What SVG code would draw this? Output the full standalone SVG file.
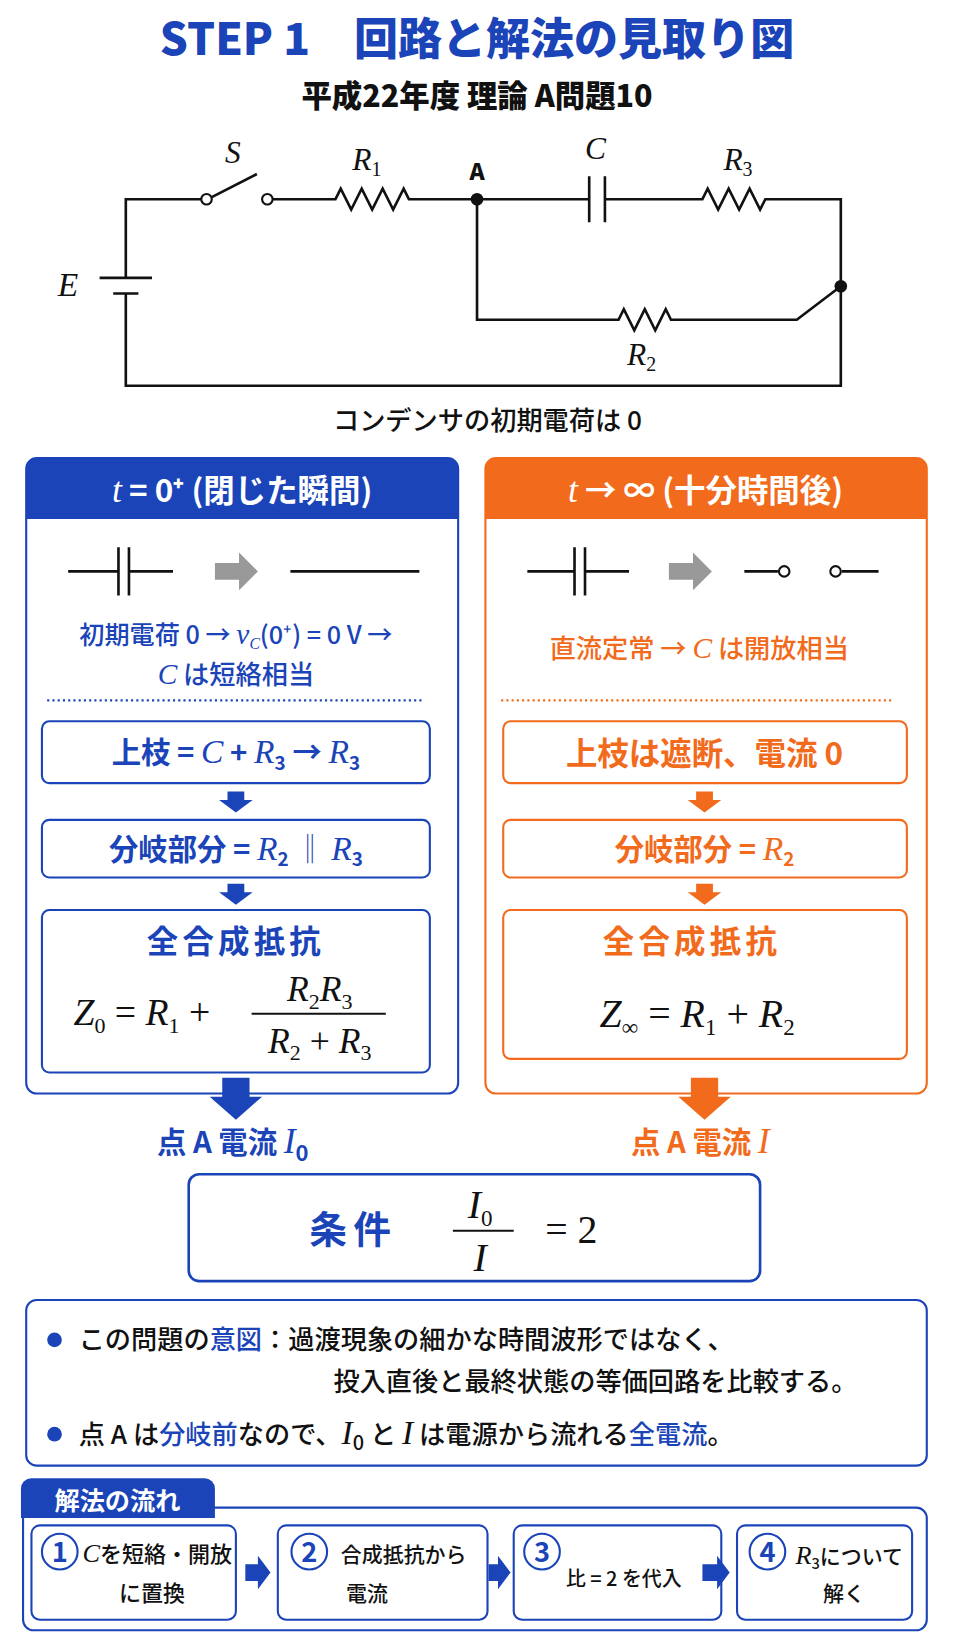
<svg xmlns="http://www.w3.org/2000/svg" width="954" height="1648" viewBox="0 0 954 1648">
<style>
text{font-family:"Noto Sans CJK JP","Liberation Sans",sans-serif;font-weight:500}
.m{font-family:"Liberation Serif","Noto Sans CJK JP",serif;font-style:italic;font-weight:normal}
.w{fill:none;stroke:#111;stroke-width:2.5}
.b{fill:#1a44b8}.o{fill:#f26a1b}.k{fill:#111}
.bb{fill:#fff;stroke:#1a44b8;stroke-width:2}
.ob{fill:#fff;stroke:#f26a1b;stroke-width:2}
</style>
<rect width="954" height="1648" fill="#fff"/>
<g transform="scale(1.0484)">
<g id="title">
<text x="455" y="52" text-anchor="middle" font-size="42" style="font-weight:900" class="b">STEP 1　回路と解法の見取り図</text>
<text x="455" y="102" text-anchor="middle" font-size="29" style="font-weight:900" class="k">平成22年度 理論 A問題10</text>
</g>
<g id="circuit">
<path class="w" d="M120 265V190H197M257 190H320l5-10 10 20 10-20 10 20 10-20 10 20 10-20 5 10H455H562M577 190H670l5-10 10 20 10-20 10 20 10-20 10 20 5-10H802V368H120V280"/>
<path class="w" d="M95 265H145M108 280H132" />
<path class="w" d="M562 168V212M577 168V212" stroke-width="3"/>
<path class="w" d="M455 190V305H590l5-10 10 20 10-20 10 20 10-20 5 10H760L802 273"/>
<path class="w" d="M202 188L245 166"/>
<circle cx="197" cy="190" r="5" fill="#fff" stroke="#111" stroke-width="2"/>
<circle cx="255" cy="190" r="5" fill="#fff" stroke="#111" stroke-width="2"/>
<circle cx="455" cy="190" r="6" class="k"/><circle cx="802" cy="273" r="6" class="k"/>
<text x="55" y="282" class="m k" font-size="32">E</text>
<text x="222" y="155" class="m k" font-size="30" text-anchor="middle">S</text>
<text x="336" y="162" class="m k" font-size="30">R<tspan font-size="19" dy="6" font-style="normal">1</tspan></text>
<text x="455" y="172" class="k" font-size="22" style="font-weight:900" text-anchor="middle">A</text>
<text x="568" y="152" class="m k" font-size="30" text-anchor="middle">C</text>
<text x="690" y="162" class="m k" font-size="30">R<tspan font-size="19" dy="6" font-style="normal">3</tspan></text>
<text x="598" y="348" class="m k" font-size="30">R<tspan font-size="19" dy="6" font-style="normal">2</tspan></text>
<text x="465" y="410" text-anchor="middle" font-size="25" class="k">コンデンサの初期電荷は 0</text>
</g>
<g id="left">
<rect x="25" y="437" width="412" height="606" rx="10" class="bb"/>
<path d="M25 447a10 10 0 0 1 10-10H427a10 10 0 0 1 10 10V495H25Z" class="b"/>
<text x="231" y="479" text-anchor="middle" font-size="30" style="font-weight:bold" fill="#fff"><tspan class="m" font-size="34">t</tspan> = 0⁺ (閉じた瞬間)</text>
<path class="w" d="M65 545H113M113 522V568M123 522V568M123 545H165M277 545H400"/>
<path d="M205 537H228V527L246 545L228 563V553H205Z" fill="#999"/>
<text x="225" y="614" text-anchor="middle" font-size="24" class="b">初期電荷 0 → <tspan class="m" font-size="28">v</tspan><tspan font-size="15" dy="5" class="m">C</tspan><tspan dy="-5">(0⁺) = 0 V →</tspan></text>
<text x="225" y="652" text-anchor="middle" font-size="25" class="b"><tspan class="m" font-size="28">C</tspan> は短絡相当</text>
<line x1="45" y1="668" x2="405" y2="668" stroke="#1a44b8" stroke-width="2" stroke-dasharray="2 3"/>
<rect x="40" y="688" width="370" height="59" rx="7" class="bb"/>
<text x="225" y="728" text-anchor="middle" font-size="28" style="font-weight:bold" class="b">上枝 = <tspan class="m" font-size="32">C</tspan> + <tspan class="m" font-size="32">R</tspan><tspan font-size="18" dy="6">3</tspan><tspan dy="-6"> → </tspan><tspan class="m" font-size="32">R</tspan><tspan font-size="18" dy="6">3</tspan></text>
<path d="M217 755H233V763H241L225 775L209 763H217Z" class="b"/>
<rect x="40" y="782" width="370" height="55" rx="7" class="bb"/>
<text x="225" y="820" text-anchor="middle" font-size="28" style="font-weight:bold" class="b">分岐部分 = <tspan class="m" font-size="32">R</tspan><tspan font-size="18" dy="6">2</tspan><tspan dy="-6" font-weight="normal"> ‖ </tspan><tspan class="m" font-size="32">R</tspan><tspan font-size="18" dy="6">3</tspan></text>
<path d="M217 843H233V851H241L225 863L209 851H217Z" class="b"/>
<rect x="40" y="868" width="370" height="155" rx="7" class="bb"/>
<text x="225" y="909" text-anchor="middle" font-size="30" style="font-weight:bold" class="b" letter-spacing="4">全合成抵抗</text>
<text x="70" y="978" font-size="36" class="m k">Z<tspan font-size="21" dy="7" font-style="normal">0</tspan><tspan dy="-7" font-style="normal"> = </tspan>R<tspan font-size="21" dy="7" font-style="normal">1</tspan><tspan dy="-7" font-style="normal"> +</tspan></text>
<text x="305" y="955" text-anchor="middle" font-size="34" class="m k">R<tspan font-size="21" dy="7" font-style="normal">2</tspan><tspan dy="-7">R</tspan><tspan font-size="21" dy="7" font-style="normal">3</tspan></text>
<line x1="240" y1="967" x2="368" y2="967" stroke="#111" stroke-width="2"/>
<text x="305" y="1004" text-anchor="middle" font-size="34" class="m k">R<tspan font-size="21" dy="7" font-style="normal">2</tspan><tspan dy="-7" font-style="normal"> + </tspan>R<tspan font-size="21" dy="7" font-style="normal">3</tspan></text>
<path d="M212 1028H238V1046H250L225 1068L200 1046H212Z" class="b"/>
<text x="222" y="1100" text-anchor="middle" font-size="28" style="font-weight:bold" class="b">点 A 電流 <tspan class="m" font-size="34">I</tspan><tspan font-size="21" dy="7">0</tspan></text>
</g>
<g id="right">
<rect x="463" y="437" width="421" height="606" rx="10" class="ob"/>
<path d="M463 447a10 10 0 0 1 10-10H874a10 10 0 0 1 10 10V495H463Z" class="o"/>
<text x="673" y="479" text-anchor="middle" font-size="30" style="font-weight:bold" fill="#fff"><tspan class="m" font-size="34">t</tspan> → ∞ (十分時間後)</text>
<path class="w" d="M503 545H548M548 522V568M558 522V568M558 545H600M710 545H742M803 545H838"/>
<circle cx="748" cy="545" r="5" fill="#fff" stroke="#111" stroke-width="2"/>
<circle cx="797" cy="545" r="5" fill="#fff" stroke="#111" stroke-width="2"/>
<path d="M638 537H661V527L679 545L661 563V553H638Z" fill="#999"/>
<text x="667" y="628" text-anchor="middle" font-size="25" class="o">直流定常 → <tspan class="m" font-size="28">C</tspan> は開放相当</text>
<line x1="478" y1="668" x2="850" y2="668" stroke="#f26a1b" stroke-width="2" stroke-dasharray="2 3"/>
<rect x="480" y="688" width="385" height="59" rx="7" class="ob"/>
<text x="672" y="730" text-anchor="middle" font-size="30" style="font-weight:bold" class="o">上枝は遮断、電流 0</text>
<path d="M664 755H680V763H688L672 775L656 763H664Z" class="o"/>
<rect x="480" y="782" width="385" height="55" rx="7" class="ob"/>
<text x="672" y="820" text-anchor="middle" font-size="28" style="font-weight:bold" class="o">分岐部分 = <tspan class="m" font-size="32">R</tspan><tspan font-size="18" dy="6">2</tspan></text>
<path d="M664 843H680V851H688L672 863L656 851H664Z" class="o"/>
<rect x="480" y="868" width="385" height="142" rx="7" class="ob"/>
<text x="660" y="909" text-anchor="middle" font-size="30" style="font-weight:bold" class="o" letter-spacing="4">全合成抵抗</text>
<text x="665" y="980" text-anchor="middle" font-size="38" class="m k">Z<tspan font-size="22" dy="7" font-style="normal">∞</tspan><tspan dy="-7" font-style="normal"> = </tspan>R<tspan font-size="22" dy="7" font-style="normal">1</tspan><tspan dy="-7" font-style="normal"> + </tspan>R<tspan font-size="22" dy="7" font-style="normal">2</tspan></text>
<path d="M659 1028H685V1046H697L672 1068L647 1046H659Z" class="o"/>
<text x="668" y="1100" text-anchor="middle" font-size="28" style="font-weight:bold" class="o">点 A 電流 <tspan class="m" font-size="34">I</tspan></text>
</g>
<g id="condition">
<rect x="180" y="1120" width="545" height="102" rx="10" fill="#fff" stroke="#1a44b8" stroke-width="2.5"/>
<text x="337" y="1186" text-anchor="middle" font-size="36" style="font-weight:bold" class="b" letter-spacing="6">条件</text>
<text x="458" y="1162" text-anchor="middle" font-size="38" class="m k">I<tspan font-size="22" dy="7" font-style="normal">0</tspan></text>
<line x1="432" y1="1174" x2="490" y2="1174" stroke="#111" stroke-width="2"/>
<text x="458" y="1212" text-anchor="middle" font-size="38" class="m k">I</text>
<text x="545" y="1186" text-anchor="middle" font-size="38" font-family="Liberation Serif" class="k" style="font-family:'Liberation Serif'">= 2</text>
</g>
<g id="notes">
<rect x="25" y="1240" width="859" height="158" rx="10" class="bb"/>
<circle cx="52" cy="1278" r="7" class="b"/><circle cx="52" cy="1368" r="7" class="b"/>
<text x="75" y="1287" font-size="25" class="k">この問題の<tspan class="b">意図</tspan>：過渡現象の細かな時間波形ではなく、</text>
<text x="318" y="1327" font-size="25" class="k">投入直後と最終状態の等価回路を比較する。</text>
<text x="75" y="1377" font-size="25" class="k">点 A は<tspan class="b">分岐前</tspan>なので、<tspan class="m" font-size="32">I</tspan><tspan font-size="19" dy="6">0</tspan><tspan dy="-6"> と </tspan><tspan class="m" font-size="32">I</tspan> は電源から流れる<tspan class="b">全電流</tspan>。</text>
</g>
<g id="flow">
<rect x="22" y="1438" width="862" height="117" rx="10" class="bb"/>
<path d="M20 1448V1420a10 10 0 0 1 10-10H195a10 10 0 0 1 10 10V1448Z" class="b"/>
<text x="112" y="1440" text-anchor="middle" font-size="24" style="font-weight:bold" fill="#fff">解法の流れ</text>
<g id="s1"><rect x="30" y="1455" width="195" height="90" rx="8" class="bb"/>
<circle cx="57" cy="1480" r="17" class="bb"/><text x="57" y="1490" text-anchor="middle" font-size="26" style="font-weight:bold" class="b">1</text>
<text x="150" y="1490" text-anchor="middle" font-size="21" class="k"><tspan class="m" font-size="25">C</tspan>を短絡・開放</text>
<text x="145" y="1527" text-anchor="middle" font-size="21" class="k">に置換</text></g>
<g id="s2"><rect x="265" y="1455" width="200" height="90" rx="8" class="bb"/>
<circle cx="295" cy="1480" r="17" class="bb"/><text x="295" y="1490" text-anchor="middle" font-size="26" style="font-weight:bold" class="b">2</text>
<text x="385" y="1490" text-anchor="middle" font-size="20" class="k">合成抵抗から</text>
<text x="350" y="1527" text-anchor="middle" font-size="20" class="k">電流</text></g>
<g id="s3"><rect x="490" y="1455" width="198" height="90" rx="8" class="bb"/>
<circle cx="517" cy="1480" r="17" class="bb"/><text x="517" y="1490" text-anchor="middle" font-size="26" style="font-weight:bold" class="b">3</text>
<text x="595" y="1513" text-anchor="middle" font-size="19" class="k">比 = 2 を代入</text></g>
<g id="s4"><rect x="703" y="1455" width="167" height="90" rx="8" class="bb"/>
<circle cx="732" cy="1480" r="17" class="bb"/><text x="732" y="1490" text-anchor="middle" font-size="26" style="font-weight:bold" class="b">4</text>
<text x="810" y="1492" text-anchor="middle" font-size="20" class="k"><tspan class="m" font-size="25">R</tspan><tspan font-size="14" dy="5">3</tspan><tspan dy="-5">について</tspan></text>
<text x="805" y="1527" text-anchor="middle" font-size="20" class="k">解く</text></g>
<g id="arrows"><path d="M234 1492H246V1484L258 1500L246 1516V1508H234Z" class="b"/>
<path d="M466 1492H475V1484L487 1500L475 1516V1508H466Z" class="b"/>
<path d="M670 1492H684V1484L696 1500L684 1516V1508H670Z" class="b"/></g>
</g>
</g>
</svg>
